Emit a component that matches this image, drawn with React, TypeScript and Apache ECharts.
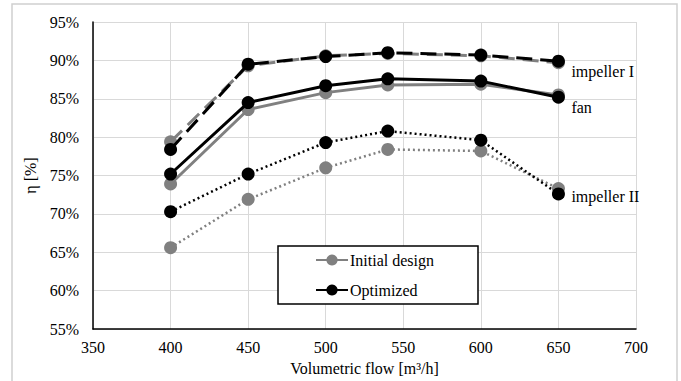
import React, { useEffect, useRef } from "react";
import * as echarts from "echarts";

const flows = [400, 450, 500, 540, 600, 650];
const impeller1Initial = [79.4, 89.3, 90.6, 90.9, 90.6, 89.7];
const impeller1Optimized = [78.4, 89.5, 90.5, 91.0, 90.7, 89.9];
const fanInitial = [73.9, 83.6, 85.8, 86.8, 86.9, 85.5];
const fanOptimized = [75.2, 84.5, 86.7, 87.6, 87.3, 85.2];
const impeller2Initial = [65.6, 71.9, 76.0, 78.4, 78.2, 73.3];
const impeller2Optimized = [70.3, 75.2, 79.3, 80.8, 79.6, 72.6];

const GRAY = "#808080";
const FONT = "Liberation Serif";

function pts(vals: number[]) {
  return flows.map((x, i) => [x, vals[i]]);
}

export default function App() {
  const ref = useRef<HTMLDivElement>(null);
  useEffect(() => {
    if (!ref.current) return;
    const chart = echarts.init(ref.current, null, { renderer: "svg" });
    const txt = { fontFamily: FONT, fontSize: 16, color: "#000" };
    const mk = (
      name: string,
      vals: number[],
      color: string,
      type: any,
      width: number,
      label?: string,
      labelDy?: number
    ) => ({
      type: "line",
      name,
      data: pts(vals),
      symbol: "circle",
      symbolSize: 13,
      lineStyle: { color, width, type },
      itemStyle: { color },
      z: color === GRAY ? 2 : 3,
      endLabel: label
        ? {
            show: true,
            formatter: label,
            distance: 13,
            offset: [0, labelDy || 0],
            ...txt,
          }
        : undefined,
    });
    chart.setOption({
      animation: false,
      textStyle: { fontFamily: FONT },
      grid: { left: 93, right: 45, top: 22, bottom: 43 },
      xAxis: {
        type: "value",
        min: 350,
        max: 700,
        interval: 50,
        name: "Volumetric flow [m³/h]",
        nameLocation: "middle",
        nameGap: 26,
        nameTextStyle: { ...txt },
        axisLine: { show: true, onZero: false, lineStyle: { color: "#000", width: 1.5 } },
        axisTick: { show: false },
        axisLabel: { ...txt, margin: 10, formatter: (v: number) => String(v) },
        splitLine: { show: true, lineStyle: { color: "#d9d9d9", width: 1 } },
      },
      yAxis: {
        type: "value",
        min: 55,
        max: 95,
        interval: 5,
        name: "η [%]",
        nameLocation: "middle",
        nameGap: 40,
        nameRotate: 90,
        nameTextStyle: { ...txt },
        axisLine: { show: true, lineStyle: { color: "#000", width: 1.5 } },
        axisTick: { show: false },
        axisLabel: { ...txt, margin: 14, formatter: (v: number) => v + "%" },
        splitLine: { show: true, lineStyle: { color: "#d9d9d9", width: 1 } },
      },
      legend: {
        show: true,
        orient: "vertical",
        left: 310,
        top: 247,
        itemGap: 14,
        itemWidth: 32,
        itemHeight: 14,
        z: 20,
        data: ["Initial design", "Optimized"],
        textStyle: { ...txt, padding: [0, 0, 0, -3] },
      },
      graphic: [
        {
          type: "rect",
          shape: { x: 12, y: 4, width: 665, height: 420 },
          style: { fill: "none", stroke: "#d0d0d0", lineWidth: 1.5 },
          silent: true,
          z: 1,
        },
        {
          type: "rect",
          shape: { x: 278, y: 246, width: 200, height: 58 },
          style: { fill: "#fff", stroke: "#000", lineWidth: 1.5 },
          silent: true,
          z: 10,
        },
      ],
      series: [
        mk("Initial design", fanInitial, GRAY, "solid", 3),
        mk("Optimized", fanOptimized, "#000", "solid", 3, "fan", 10),
        mk("impeller I initial", impeller1Initial, GRAY, [16, 8], 3),
        mk("impeller I optimized", impeller1Optimized, "#000", [16, 8], 3, "impeller I", 10),
        mk("impeller II initial", impeller2Initial, GRAY, [2, 3], 2.5),
        mk("impeller II optimized", impeller2Optimized, "#000", [2, 3], 2.5, "impeller II", 3),
      ],
    });
    return () => chart.dispose();
  }, []);
  return (
    <div
      ref={ref}
      style={{
        position: "absolute",
        left: 0,
        top: 0,
        width: 681,
        height: 381,
        background: "#fff",
        fontFamily: "Liberation Serif",
      }}
    />
  );
}
